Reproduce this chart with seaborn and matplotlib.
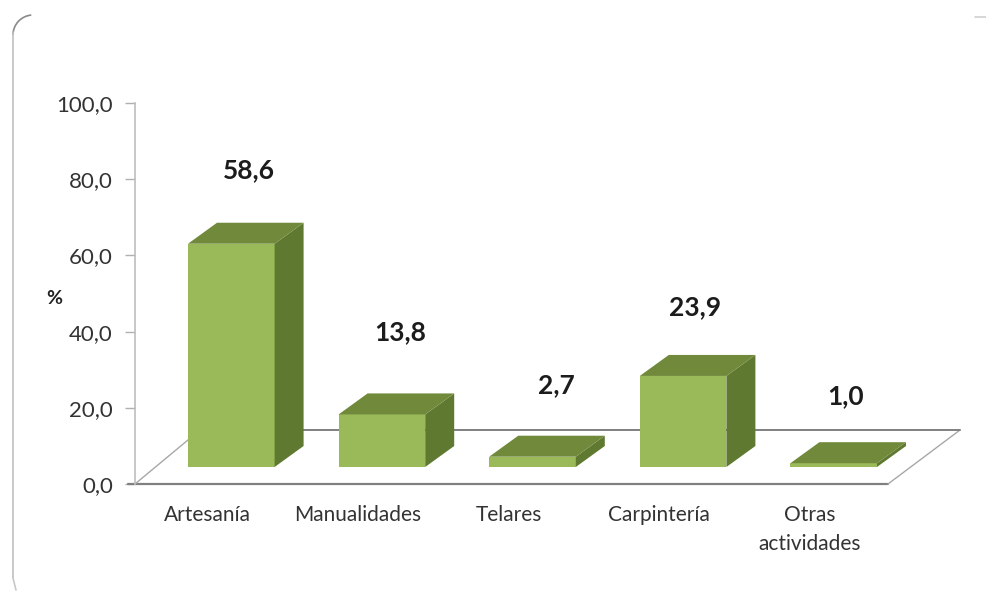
import matplotlib
matplotlib.use("Agg")
import matplotlib.pyplot as plt
import seaborn as sns
from matplotlib.patches import Polygon, Arc
from matplotlib.transforms import Affine2D, IdentityTransform

categories = ["Artesanía", "Manualidades", "Telares", "Carpintería", "Otras\nactividades"]
values = [58.6, 13.8, 2.7, 23.9, 1.0]
labels = ["58,6", "13,8", "2,7", "23,9", "1,0"]
y_ticks = [0, 20, 40, 60, 80, 100]
y_tick_labels = ["0,0", "20,0", "40,0", "60,0", "80,0", "100,0"]

# label placement is not regular in the original, so nudge per bar (pixels)
label_gap = [53, 61, 51, 48, 46]
label_dx = [0, 0, 6, -6, -6]

W, H = 986, 592
FRONT = "#9aba59"
TOP = "#71893a"
SIDE = "#5f7a30"

sns.set_theme(style="white")
plt.rcParams["font.family"] = ["Lato", "DejaVu Sans"]

fig = plt.figure(figsize=(W / 100, H / 100), dpi=100)
# axes box in pixels: x 135-888, y 103-484
ax = fig.add_axes([135 / W, 1 - 484 / H, 753 / W, 381 / H])

sns.barplot(x=categories, y=values, color=FRONT, width=0.575, saturation=1, linewidth=0, ax=ax, zorder=3)
ax.set_ylim(0, 100)
ax.set_xlim(-0.5, 4.5)
ax.set_ylabel("")
ax.patch.set_alpha(0)

# fake 3d: bars stand forward on the floor, top and side go back up-right
base_dx, base_dy = 21, 17
depth_dx, depth_dy = 29, 21
px = IdentityTransform()
shift = Affine2D().translate(base_dx, base_dy)

for bar, val, lab, gap, dx in zip(ax.patches, values, labels, label_gap, label_dx):
    bar.set_transform(ax.transData + shift)
    bar.set_clip_on(False)
    (x0, y0), (x1, y1) = shift.transform(ax.transData.transform(
        [(bar.get_x(), 0), (bar.get_x() + bar.get_width(), val)]))
    top = [(x0, y1), (x1, y1), (x1 + depth_dx, y1 + depth_dy), (x0 + depth_dx, y1 + depth_dy)]
    side = [(x1, y0), (x1 + depth_dx, y0 + depth_dy), (x1 + depth_dx, y1 + depth_dy), (x1, y1)]
    for pts, col in ((side, SIDE), (top, TOP)):
        ax.add_patch(Polygon(pts, closed=True, transform=px, facecolor=col, edgecolor="none",
                             clip_on=False, zorder=3))
    ax.text((x0 + x1) / 2 + 18 + dx, y1 + depth_dy + gap, lab, transform=px, ha="center", va="center",
            fontsize=19, fontweight="bold", color="#1c1c1c", zorder=6)

# floor lines, from the axes corners
x_l, y_b = ax.transData.transform((-0.5, 0))
x_r = ax.transData.transform((4.5, 0))[0]
back_y = y_b + 54
floor_lines = [
    ([x_l - 7, x_r], [y_b, y_b], "#808080", 1.6),
    ([x_l, x_l + 65], [y_b, back_y], "#a8a8a8", 1.0),
    ([x_r, x_r + 72], [y_b, back_y], "#a8a8a8", 1.0),
    ([x_l + 65, x_r + 72], [back_y, back_y], "#808080", 1.4),
]
for xs, ys, col, lw in floor_lines:
    ax.add_line(plt.Line2D(xs, ys, transform=px, color=col, lw=lw, clip_on=False, zorder=2))

for s in ["top", "right", "bottom"]:
    ax.spines[s].set_visible(False)
ax.spines["left"].set_color("#bdbdbd")
ax.spines["left"].set_linewidth(1.2)
ax.set_yticks(y_ticks)
ax.set_yticklabels(y_tick_labels, fontsize=16, color="#333333")
ax.tick_params(axis="y", length=7, color="#b0b0b0", width=1, pad=9, left=True)
ax.tick_params(axis="x", length=0, pad=15)
ax.set_xticks(range(len(categories)))
ax.set_xticklabels(categories, fontsize=15, color="#333333", linespacing=1.6, va="top")
for tl in ax.get_xticklabels():
    tl.set_transform(tl.get_transform() + Affine2D().translate(-3, 0))
fig.text(54 / W, 1 - 298 / H, "%", ha="center", va="center", fontsize=14, fontweight="bold", color="#222222")

# only parts of the rounded border survive in the source image
border = [
    ([13, 13], [32, 578], "#c0c0c0", 1.2),
    ([13, 16], [578, 590], "#c8c8c8", 1.2),
    ([975, 986], [17, 17], "#d0d0d0", 1.2),
]
for xs, ys, col, lw in border:
    fig.add_artist(plt.Line2D(xs, [H - y for y in ys], transform=px, color=col, lw=lw))
fig.add_artist(Arc((33, H - 35), 40, 40, theta1=95, theta2=180, transform=px, color="#8a8a8a", lw=1.2))

fig.savefig("out.png", dpi=100)
